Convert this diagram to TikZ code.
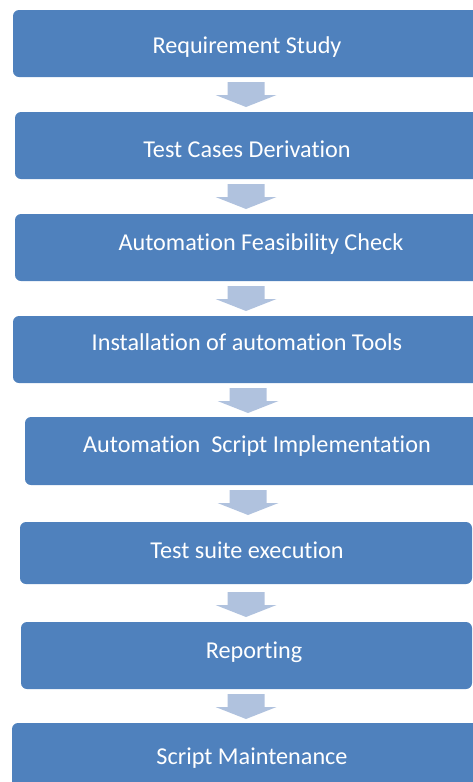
\documentclass[tikz,border=0pt]{standalone}
\usepackage{fontspec}
\setmainfont{Carlito}[Ligatures=NoCommon]
\definecolor{stepblue}{HTML}{4F81BD}
\definecolor{arrowblue}{HTML}{B0C2DE}
\tikzset{
  stepbox/.style={fill=stepblue, rounded corners=6pt, inner sep=0pt},
  steplabel/.style={text=white, font=\fontsize{24.2}{28}\selectfont, inner sep=0pt, anchor=base},
  pics/downarrow/.style={code={
    \fill[arrowblue] (-18.5,0) -- (18.5,0) -- (18.5,13) -- (30.5,13) -- (0,25) -- (-30.5,13) -- (-18.5,13) -- cycle;
  }}
}
\begin{document}
\begin{tikzpicture}[x=1pt, y=-1pt]
\useasboundingbox (0,0) rectangle (473,782);
\clip (0,0) rectangle (473,782);
% process steps
\path[stepbox] (13,10)  rectangle (490,77)  node[pos=.5] (b1) {};
\path[stepbox] (15,112) rectangle (490,179) node[pos=.5] (b2) {};
\path[stepbox] (15,214) rectangle (490,281) node[pos=.5] (b3) {};
\path[stepbox] (13,316) rectangle (490,383) node[pos=.5] (b4) {};
\path[stepbox] (25,417) rectangle (490,485) node[pos=.5] (b5) {};
\path[stepbox] (20,522) rectangle (472,584) node[pos=.5] (b6) {};
\path[stepbox] (21,622) rectangle (472,689) node[pos=.5] (b7) {};
\path[stepbox] (12,723) rectangle (490,800) node[pos=.5] (b8) {};
% labels
\node[steplabel] (t1) at (247,53)  {Requirement Study};
\node[steplabel] (t2) at (247,157) {Test Cases Derivation};
\node[steplabel] (t3) at (261,250) {Automation Feasibility Check};
\node[steplabel] (t4) at (247,350) {Installation of automation Tools};
\node[steplabel] (t5) at (257,452) {Automation\ \ Script Implementation};
\node[steplabel] (t6) at (247,558) {Test suite execution};
\node[steplabel] (t7) at (254,658) {Reporting};
\node[steplabel] (t8) at (252,764) {Script Maintenance};
% arrows between steps
\coordinate (a1) at (246,82);
\coordinate (a2) at (246,184);
\coordinate (a3) at (246,286);
\coordinate (a4) at (248,388);
\coordinate (a5) at (248,490);
\coordinate (a6) at (246,592);
\coordinate (a7) at (246,694);
\foreach \a in {a1,a2,a3,a4,a5,a6,a7} \pic at (\a) {downarrow};
\end{tikzpicture}
\end{document}
